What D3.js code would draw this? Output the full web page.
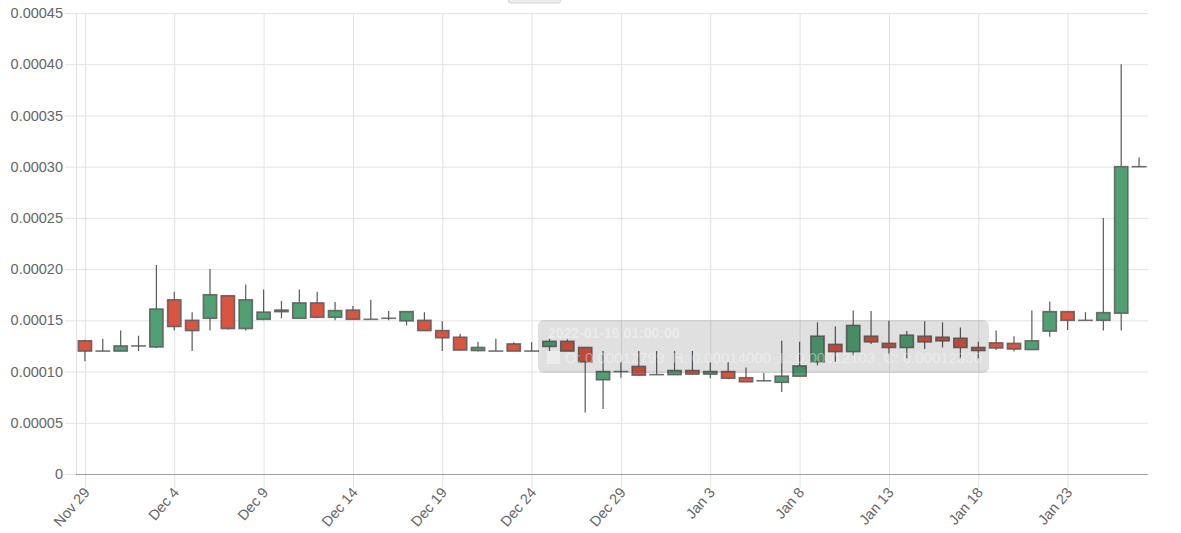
<!DOCTYPE html>
<html>
<head>
<meta charset="utf-8">
<script src="https://cdn.jsdelivr.net/npm/d3@7"></script>
<style>
  body { margin: 0; background: #fff; }
  svg { display: block; font-family: 'Helvetica Neue', Helvetica, Arial, 'Liberation Sans', sans-serif; }
  .grid line { stroke: #e3e3e3; stroke-width: 1; }
  .tick-label { fill: #666; font-size: 14px; }
</style>
</head>
<body>
<div id="chart"></div>
<script>
// Candle dates (one per day)
var dates = [
  '2021-11-29', '2021-11-30', '2021-12-01', '2021-12-02', '2021-12-03', '2021-12-04',
  '2021-12-05', '2021-12-06', '2021-12-07', '2021-12-08', '2021-12-09', '2021-12-10',
  '2021-12-11', '2021-12-12', '2021-12-13', '2021-12-14', '2021-12-15', '2021-12-16',
  '2021-12-17', '2021-12-18', '2021-12-19', '2021-12-20', '2021-12-21', '2021-12-22',
  '2021-12-23', '2021-12-24', '2021-12-25', '2021-12-26', '2021-12-27', '2021-12-28',
  '2021-12-29', '2021-12-30', '2021-12-31', '2022-01-01', '2022-01-02', '2022-01-03',
  '2022-01-04', '2022-01-05', '2022-01-06', '2022-01-07', '2022-01-08', '2022-01-09',
  '2022-01-10', '2022-01-11', '2022-01-12', '2022-01-13', '2022-01-14', '2022-01-15',
  '2022-01-16', '2022-01-17', '2022-01-18', '2022-01-19', '2022-01-20', '2022-01-21',
  '2022-01-22', '2022-01-23', '2022-01-24', '2022-01-25', '2022-01-26', '2022-01-27'
];

// OHLC values
var opens = [
  0.000130, 0.000120, 0.000120, 0.000125, 0.000124, 0.000170,
  0.000150, 0.000152, 0.000174, 0.000142, 0.000151, 0.0001585,
  0.000152, 0.000167, 0.000153, 0.000160, 0.000151, 0.000152,
  0.0001495, 0.000150, 0.000140, 0.0001335, 0.0001205, 0.000120,
  0.000127, 0.000120, 0.0001245, 0.0001295, 0.0001235, 0.000092,
  0.000100, 0.000105, 0.000097, 0.000097, 0.000101, 0.0000975,
  0.000100, 0.000094, 0.000091, 0.0000895, 0.0000955, 0.0001095,
  0.0001265, 0.0001195, 0.0001345, 0.0001275, 0.0001235, 0.0001345,
  0.0001335, 0.0001325, 0.0001235, 0.00012799, 0.0001275, 0.0001215,
  0.0001395, 0.0001585, 0.000150, 0.000150, 0.000157, 0.000300
];
var highs = [
  0.000131, 0.000132, 0.000140, 0.000135, 0.000204, 0.000178,
  0.000158, 0.000200, 0.000174, 0.000185, 0.000180, 0.000169,
  0.000180, 0.000178, 0.000168, 0.000164, 0.000170, 0.000159,
  0.0001585, 0.000158, 0.000149, 0.000137, 0.000129, 0.000132,
  0.0001285, 0.0001285, 0.000132, 0.0001315, 0.0001235, 0.000120,
  0.000109, 0.000120, 0.000120, 0.000120, 0.000120, 0.000109,
  0.000109, 0.000104, 0.0000985, 0.000130, 0.000129, 0.000148,
  0.000144, 0.0001595, 0.000159, 0.0001495, 0.0001395, 0.000149,
  0.000148, 0.000143, 0.000129, 0.000140, 0.0001345, 0.0001595,
  0.0001685, 0.0001585, 0.000158, 0.000250, 0.000400, 0.000309
];
var lows = [
  0.000110, 0.000120, 0.000120, 0.000120, 0.000123, 0.000140,
  0.000120, 0.000140, 0.000141, 0.000140, 0.000150, 0.000152,
  0.000152, 0.000152, 0.000150, 0.000151, 0.000151, 0.000150,
  0.000145, 0.000140, 0.000120, 0.0001205, 0.0001195, 0.000120,
  0.000120, 0.000120, 0.000120, 0.000120, 0.000060, 0.0000635,
  0.000094, 0.000096, 0.000097, 0.000097, 0.000097, 0.0000935,
  0.0000925, 0.000090, 0.0000905, 0.000080, 0.0000955, 0.000106,
  0.0001095, 0.000116, 0.000127, 0.000117, 0.000113, 0.000122,
  0.0001235, 0.000113, 0.000113, 0.00012103, 0.0001195, 0.0001215,
  0.000134, 0.0001405, 0.000150, 0.000140, 0.000140, 0.000300
];
var closes = [
  0.000120, 0.000120, 0.000125, 0.000125, 0.000161, 0.000144,
  0.000140, 0.000175, 0.000142, 0.000170, 0.000158, 0.000160,
  0.000167, 0.000153, 0.0001595, 0.000151, 0.000151, 0.000152,
  0.0001585, 0.000140, 0.000133, 0.000121, 0.0001235, 0.000120,
  0.000120, 0.000120, 0.0001295, 0.000120, 0.0001095, 0.000100,
  0.000100, 0.0000965, 0.000097, 0.000101, 0.0000975, 0.000100,
  0.0000935, 0.000090, 0.000091, 0.0000955, 0.0001055, 0.0001345,
  0.0001195, 0.000145, 0.000129, 0.0001235, 0.0001355, 0.000129,
  0.000130, 0.0001235, 0.0001205, 0.000123, 0.000122, 0.000130,
  0.0001585, 0.000150, 0.000150, 0.0001575, 0.000300, 0.000300
];

// Axis ticks
var xTickDates = ['2021-11-29', '2021-12-04', '2021-12-09', '2021-12-14', '2021-12-19', '2021-12-24',
  '2021-12-29', '2022-01-03', '2022-01-08', '2022-01-13', '2022-01-18', '2022-01-23'];
var yTicks = [0, 0.00005, 0.0001, 0.00015, 0.0002, 0.00025, 0.0003, 0.00035, 0.0004, 0.00045];

// Hovered candle shown in the (fading) tooltip
var tooltipDate = '2022-01-19';

var w = 1181;
var h = 533;
var plotLeft = 76;
var plotRight = 1148;
var plotTop = 13;
var plotBottom = 474;

var parse = d3.timeParse('%Y-%m-%d');
var candles = dates.map(function (d, i) {
  return { date: parse(d), o: opens[i], h: highs[i], l: lows[i], c: closes[i] };
});

var svg = d3.select('#chart').append('svg').attr('width', w).attr('height', h);

// Scales - half a day padding on each side
var x = d3.scaleTime()
  .domain([d3.timeHour.offset(parse(dates[0]), -12), d3.timeHour.offset(parse(dates[dates.length - 1]), 12)])
  .range([plotLeft, plotRight]);
var y = d3.scaleLinear().domain([0, 0.00045]).range([plotBottom, plotTop]);
var dayWidth = (plotRight - plotLeft) / dates.length;

// Y axis with grid
var yAxis = d3.axisLeft(y)
  .tickValues(yTicks)
  .tickSize(-(plotRight - plotLeft))
  .tickSizeOuter(0)
  .tickPadding(13)
  .tickFormat(function (d) { return d === 0 ? '0' : d.toFixed(5); });
var gy = svg.append('g').attr('class', 'grid').attr('transform', `translate(${plotLeft}, 0)`).call(yAxis);
gy.select('.domain').remove();
gy.selectAll('.tick line').attr('x1', -11);
gy.selectAll('.tick text').attr('class', 'tick-label').attr('fill', null).style('font-size', '14.5px');

// X axis with grid
var xAxis = d3.axisBottom(x)
  .tickValues(xTickDates.map(parse))
  .tickSize(-(plotBottom - plotTop))
  .tickSizeOuter(0)
  .tickFormat(d3.timeFormat('%b %-d'));
var gx = svg.append('g').attr('class', 'grid').attr('transform', `translate(0, ${plotBottom})`).call(xAxis);
gx.select('.domain').remove();
gx.selectAll('.tick line').attr('y1', 14);
gx.selectAll('.tick text')
  .attr('class', 'tick-label')
  .attr('fill', null)
  .style('font-size', '14.5px')
  .attr('text-anchor', 'end')
  .attr('dy', null)
  .attr('y', 0)
  .attr('transform', 'translate(5, 19) rotate(-49)');

// Left border and bottom axis line
svg.append('line')
  .attr('x1', plotLeft + 0.5).attr('x2', plotLeft + 0.5).attr('y1', plotTop).attr('y2', plotBottom)
  .attr('stroke', '#e3e3e3');
svg.append('line')
  .attr('x1', plotLeft).attr('x2', plotRight).attr('y1', plotBottom + 0.5).attr('y2', plotBottom + 0.5)
  .attr('stroke', '#a0a0a0');

// Small control peeking in at the top
svg.append('rect')
  .attr('x', 508.5).attr('y', -8).attr('width', 52).attr('height', 11).attr('rx', 2)
  .attr('fill', '#ececec').attr('stroke', '#d4d4d4');

// Candles
var upColor = 'rgb(80, 160, 115)';
var downColor = 'rgb(215, 85, 65)';
var flatColor = 'rgb(90, 90, 90)';
var borderColor = 'rgb(90, 90, 90)';
var bodyWidth = dayWidth * 0.74;

var g = svg.append('g').selectAll('g').data(candles).enter().append('g');

g.append('line')
  .attr('x1', function (d) { return x(d.date); })
  .attr('x2', function (d) { return x(d.date); })
  .attr('y1', function (d) { return y(d.h); })
  .attr('y2', function (d) { return y(d.l); })
  .attr('stroke', borderColor)
  .attr('stroke-width', 1.2);

g.append('rect')
  .attr('x', function (d) { return x(d.date) - bodyWidth / 2; })
  .attr('y', function (d) { return y(Math.max(d.o, d.c)); })
  .attr('width', bodyWidth)
  .attr('height', function (d) { return Math.max(Math.abs(y(d.o) - y(d.c)), 0.01); })
  .attr('fill', function (d) { return d.c > d.o ? upColor : (d.c < d.o ? downColor : flatColor); })
  .attr('stroke', borderColor)
  .attr('stroke-opacity', 0.85)
  .attr('stroke-width', 1.6);

// Tooltip (fading out)
var tipIndex = dates.indexOf(tooltipDate);
var tip = svg.append('g').attr('transform', 'translate(538, 320)');
tip.append('rect')
  .attr('width', 451).attr('height', 53).attr('rx', 6)
  .attr('fill', 'rgba(0, 0, 0, 0.12)');
tip.append('text')
  .attr('x', 10).attr('y', 18)
  .attr('fill', 'rgba(255, 255, 255, 0.4)')
  .style('font-size', '14px').style('font-weight', 'bold')
  .text(tooltipDate + ' 01:00:00');
tip.append('rect')
  .attr('x', 9).attr('y', 31).attr('width', 13).attr('height', 13)
  .attr('fill', 'rgba(255, 255, 255, 0.4)');
tip.append('text')
  .attr('x', 27).attr('y', 43)
  .attr('fill', 'rgba(255, 255, 255, 0.4)')
  .style('font-size', '15px')
  .attr('xml:space', 'preserve')
  .text('O: ' + opens[tipIndex].toFixed(8) + '  H: ' + highs[tipIndex].toFixed(8) +
    '  L: ' + lows[tipIndex].toFixed(8) + '  C: ' + closes[tipIndex].toFixed(8));
</script>
</body>
</html>
